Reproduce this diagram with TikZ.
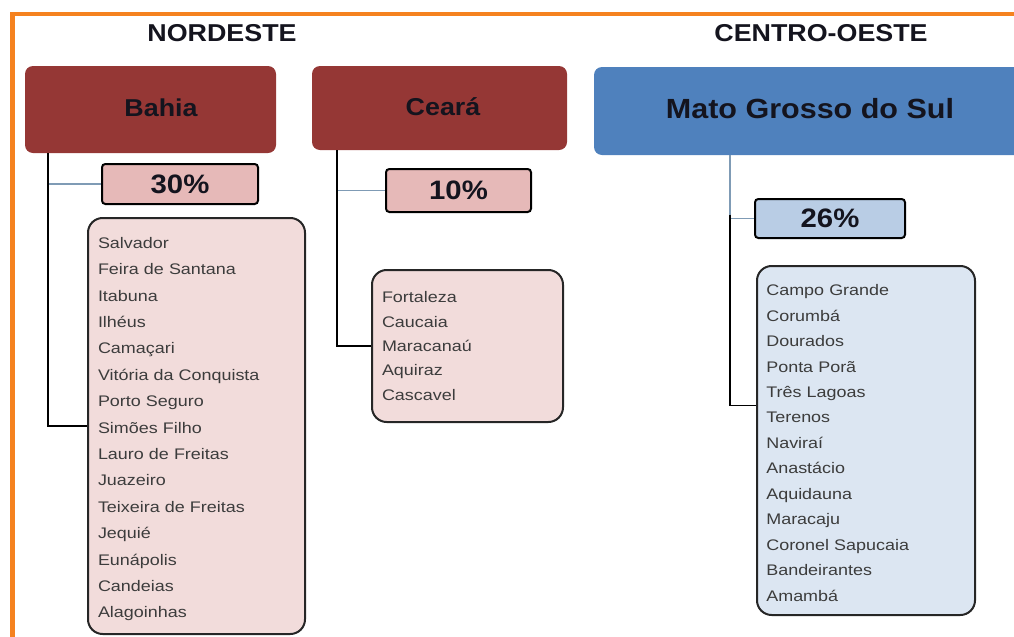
\documentclass[tikz,border=0pt]{standalone}
\usepackage{fontspec}
\setmainfont{Liberation Sans}
\newfontfamily\headfont[FakeStretch=1.1]{Liberation Sans}
\newfontfamily\cityfont[FakeStretch=1.17]{Liberation Sans}

\definecolor{frameorange}{HTML}{F5821F}
\definecolor{nered}{HTML}{953735}
\definecolor{coblue}{HTML}{4F81BD}
\definecolor{nepct}{HTML}{E6B9B8}
\definecolor{nelist}{HTML}{F2DCDB}
\definecolor{copct}{HTML}{B9CDE5}
\definecolor{colist}{HTML}{DCE6F2}
\definecolor{branchblue}{HTML}{7F9BB5}
\definecolor{titleink}{HTML}{14141E}
\definecolor{cityink}{HTML}{3C3C3C}

\begin{document}
\begin{tikzpicture}
  [x=0.75pt, y=-0.75pt,
   region/.style={inner sep=0pt, text=titleink, font=\headfont\bfseries\fontsize{18.3}{20}\selectfont},
   state/.style={rounded corners=6pt, inner sep=0pt},
   statename/.style={inner sep=0pt, text=titleink, font=\headfont\bfseries\fontsize{#1}{22}\selectfont},
   pct/.style={draw=black, line width=1.5pt, rounded corners=2.5pt, inner sep=0pt, text=titleink,
     font=\headfont\bfseries\fontsize{20}{22}\selectfont},
   lista/.style={draw=black!85, line width=1.5pt, rounded corners=11pt, align=left,
     inner xsep=7.5pt, inner ysep=0pt, text=cityink, font=\cityfont\fontsize{11.5}{#1}\selectfont},
   trunk/.style={line width=1.4pt, black},
   branch/.style={line width=1.2pt, branchblue}]
  \useasboundingbox (0,0) rectangle (1014,636);

  % orange frame
  \draw[frameorange, line width=3.4pt] (12.5,660) |- (1040,14);

  \node[region] (nordeste) at (222,33) {NORDESTE};
  \node[region] (centro) at (821,33) {CENTRO-OESTE};

  % states
  \node[state, fill=nered, minimum width=188.25pt, minimum height=65.25pt] (bahia) at (150.5,109.5) {};
  \node[statename=18.3] (bahianame) at (161,108) {Bahia};
  \node[state, fill=nered, minimum width=191.25pt, minimum height=63pt] (ceara) at (439.5,108) {};
  \node[statename=18.3] (cearaname) at (443,107) {Ceará};
  \node[state, fill=coblue, minimum width=322.5pt, minimum height=66pt] (ms) at (809,111) {};
  \node[statename=20.8] (msname) at (810,109) {Mato Grosso do Sul};

  % shares
  \node[pct, fill=nepct, minimum width=117pt, minimum height=30pt] (pba) at (180,184) {30\%};
  \node[pct, fill=nepct, minimum width=108.75pt, minimum height=32.25pt] (pce) at (458.5,190.5) {10\%};
  \node[pct, fill=copct, minimum width=112.5pt, minimum height=29.25pt] (pms) at (830,218.5) {26\%};

  % cities
  \node[lista=19.8, fill=nelist, text width=147.75pt, minimum height=312pt] (lba) at (196.5,426)
    {\rule{0pt}{13pt}Salvador\\Feira de Santana\\Itabuna\\Ilhéus\\Camaçari\\Vitória da Conquista\\Porto Seguro\\%
     Simões Filho\\Lauro de Freitas\\Juazeiro\\Teixeira de Freitas\\Jequié\\Eunápolis\\Candeias\\Alagoinhas};
  \node[lista=18.2, fill=nelist, text width=128.25pt, minimum height=114pt] (lce) at (467.5,346)
    {Fortaleza\\Caucaia\\Maracanaú\\Aquiraz\\Cascavel};
  \node[lista=19.1, fill=colist, text width=149.5pt, minimum height=261.75pt, inner xsep=7pt] (lms) at (866,440.5)
    {\rule{0pt}{12pt}Campo Grande\\Corumbá\\Dourados\\Ponta Porã\\Três Lagoas\\Terenos\\Naviraí\\Anastácio\\%
     Aquidauna\\Maracaju\\Coronel Sapucaia\\Bandeirantes\\Amambá};

  % connectors
  \coordinate (tba) at ([xshift=17.25pt]bahia.south west);
  \coordinate (tce) at ([xshift=18.75pt]ceara.south west);
  \coordinate (tms) at ([xshift=102pt]ms.south west);
  \coordinate (kms) at ([yshift=26.25pt]lms.west);

  \draw[branch] (tba |- pba.west) -- (pba.west);
  \draw[trunk] (tba) |- (lba.west);
  \draw[branch] (tce |- pce.west) -- (pce.west);
  \draw[trunk] (tce) |- (lce.west);
  \draw[branch] (tms) -- ([yshift=3pt]tms |- pms.west);
  \draw[branch] (tms |- pms.west) -- (pms.west);
  \draw[trunk] ([yshift=3pt]tms |- pms.west) |- (kms);
\end{tikzpicture}
\end{document}
